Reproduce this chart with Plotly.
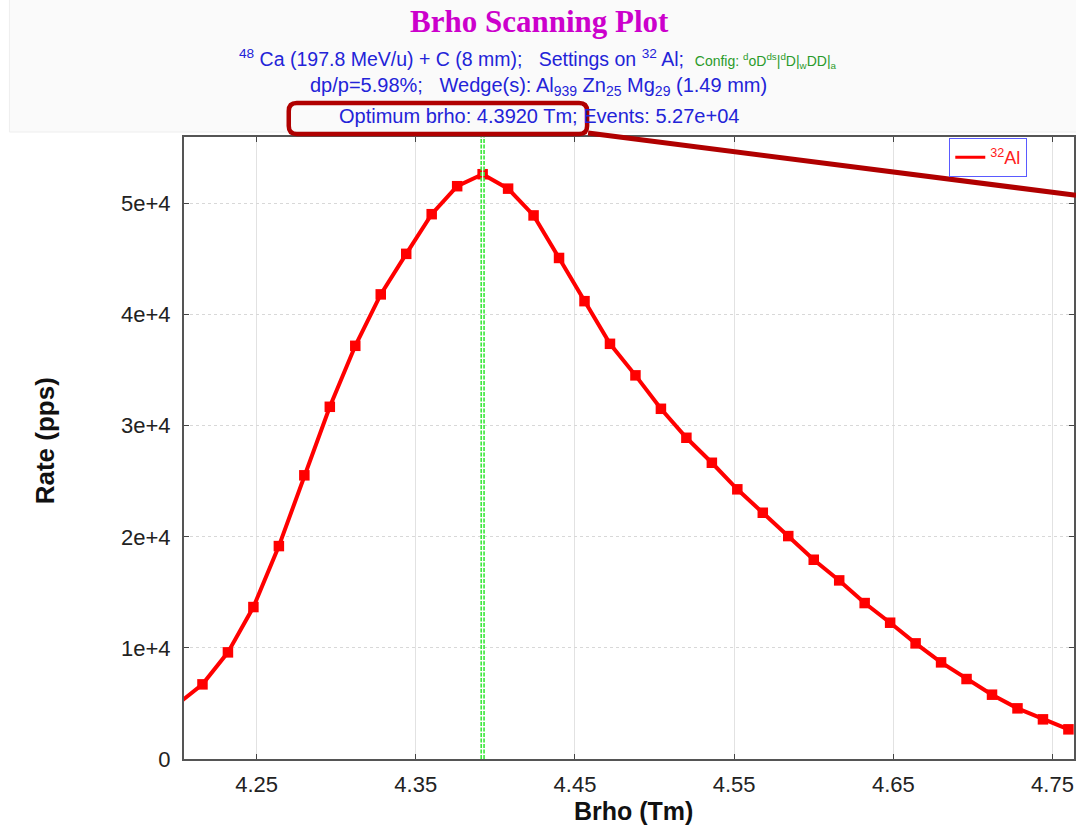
import plotly.graph_objects as go

# ---------------- data ----------------
brho = [4.200, 4.216, 4.232, 4.248, 4.264, 4.280, 4.296, 4.312, 4.328, 4.344,
        4.360, 4.376, 4.392, 4.408, 4.424, 4.440, 4.456, 4.472, 4.488, 4.504,
        4.520, 4.536, 4.552, 4.568, 4.584, 4.600, 4.616, 4.632, 4.648, 4.664,
        4.680, 4.696, 4.712, 4.728, 4.744, 4.760]
rate = [4900, 6720, 9600, 13680, 19170, 25540, 31710, 37200, 41830, 45480,
        49050, 51570, 52650, 51350, 48940, 45110, 41220, 37380, 34540, 31530,
        28920, 26670, 24280, 22170, 20070, 17940, 16080, 14040, 12270, 10410,
        8700, 7200, 5790, 4560, 3570, 2670]
optimum_brho = 4.3920
x_tickvals = [4.25, 4.35, 4.45, 4.55, 4.65, 4.75]
x_ticktext = ["4.25", "4.35", "4.45", "4.55", "4.65", "4.75"]
y_tickvals = [0, 10000, 20000, 30000, 40000, 50000]
y_ticktext = ["0", "1e+4", "2e+4", "3e+4", "4e+4", "5e+4"]
series_name = "<sup>32</sup>Al"

# ---------------- layout geometry (pixels) ----------------
W, H = 1076, 829
ML, MR, MT, MB = 184, 0, 137, 70
PW, PH = W - ML - MR, H - MT - MB


def px(x):
    return (x - ML) / PW


def py(y):
    return (H - MB - y) / PH


SANS = "Liberation Sans, Arial, sans-serif"
SERIF = "Liberation Serif, Times New Roman, serif"
BLUE = "#2323d8"

fig = go.Figure()

fig.add_trace(go.Scatter(
    x=brho, y=rate, mode="lines+markers",
    line=dict(color="#ff0000", width=4),
    marker=dict(symbol="square", size=10.5, color="#ff0000"),
    showlegend=False, cliponaxis=True,
))
# legend entry (line only)
fig.add_trace(go.Scatter(
    x=[None], y=[None], mode="lines", name=series_name,
    line=dict(color="#ff0000", width=3), showlegend=True,
))

axis_common = dict(
    showline=True, linecolor="#555555", linewidth=2, mirror="ticks",
    ticks="inside", ticklen=5, tickcolor="#444444",
    tickfont=dict(family=SANS, size=22, color="#222222"),
    zeroline=False,
)
fig.update_xaxes(
    range=[4.2044, 4.7635], tickvals=x_tickvals, ticktext=x_ticktext,
    showgrid=True, gridcolor="#e2e2e2", gridwidth=1, ticklabelstandoff=5,
    **axis_common,
)
fig.update_yaxes(
    range=[0, 56000], tickvals=y_tickvals, ticktext=y_ticktext,
    showgrid=True, gridcolor="#d8d8d8", gridwidth=1, griddash="dot",
    ticklabelstandoff=7, **axis_common,
)

shapes = []
# header background
shapes.append(dict(type="rect", xref="paper", yref="paper",
                   x0=px(9), x1=px(W + 5), y0=py(132), y1=py(-5),
                   fillcolor="#fafafa", line=dict(color="#eeeeee", width=1),
                   layer="below"))
# optimum brho line
shapes.append(dict(type="line", xref="x", yref="paper",
                   x0=optimum_brho, x1=optimum_brho, y0=0, y1=1,
                   line=dict(color="#3fe83f", width=4.5, dash="4px,1.5px")))
shapes.append(dict(type="line", xref="x", yref="paper",
                   x0=optimum_brho, x1=optimum_brho, y0=0, y1=1,
                   line=dict(color="#ffffff", width=1.2)))

# rounded red highlight box
bx0, bx1, by0, by1, r = 289, 588, 103, 134, 8


def P(x, y):
    return f"{px(x):.5f},{py(y):.5f}"


path = (f"M {P(bx0 + r, by0)} L {P(bx1 - r, by0)} Q {P(bx1, by0)} {P(bx1, by0 + r)} "
        f"L {P(bx1, by1 - r)} Q {P(bx1, by1)} {P(bx1 - r, by1)} "
        f"L {P(bx0 + r, by1)} Q {P(bx0, by1)} {P(bx0, by1 - r)} "
        f"L {P(bx0, by0 + r)} Q {P(bx0, by0)} {P(bx0 + r, by0)} Z")
shapes.append(dict(type="path", xref="paper", yref="paper", path=path,
                   line=dict(color="#b00000", width=4.5)))
shapes.append(dict(type="line", xref="paper", yref="paper",
                   x0=px(589), y0=py(133), x1=px(W + 2), y1=py(195.3),
                   line=dict(color="#b00000", width=5)))

annotations = [
    dict(text="<b>Brho Scanning Plot</b>", x=px(540), y=py(22),
         font=dict(family=SERIF, size=31, color="#cc00cc")),
    dict(text=("<sup>48</sup> Ca (197.8 MeV/u) + C (8 mm);&nbsp;&nbsp; Settings on "
               "<sup>32</sup> Al;&nbsp; <span style='color:#2a9a2a;font-size:14px'>"
               "Config: <sup>d</sup>oD<sup>ds</sup>|<sup>d</sup>D|<sub>w</sub>DD|<sub>a</sub></span>"),
         x=px(539), y=py(58), font=dict(family=SANS, size=19.5, color=BLUE)),
    dict(text=("dp/p=5.98%;&nbsp;&nbsp; Wedge(s): Al<sub>939</sub> Zn<sub>25</sub> "
               "Mg<sub>29</sub> (1.49 mm)"),
         x=px(539), y=py(87), font=dict(family=SANS, size=20, color=BLUE)),
    dict(text="Optimum brho: 4.3920 Tm; Events: 5.27e+04",
         x=px(540), y=py(116), font=dict(family=SANS, size=20, color=BLUE)),
    dict(text="<b>Brho (Tm)</b>", x=px(635), y=py(811),
         font=dict(family=SANS, size=25, color="#111111")),
    dict(text="<b>Rate (pps)</b>", x=px(45), y=py(441), textangle=-90,
         font=dict(family=SANS, size=26, color="#111111")),
]
for a in annotations:
    a.update(xref="paper", yref="paper", showarrow=False,
             xanchor="center", yanchor="middle")

fig.update_layout(
    width=W, height=H, autosize=False,
    margin=dict(l=ML, r=MR, t=MT, b=MB, pad=0),
    paper_bgcolor="white", plot_bgcolor="white",
    shapes=shapes, annotations=annotations,
    showlegend=True,
    legend=dict(x=px(951), y=py(138), xanchor="left", yanchor="top",
                bgcolor="white", bordercolor="#5a5aff", borderwidth=1,
                font=dict(family=SANS, size=18, color="#ff2020"),
                itemwidth=30, tracegroupgap=0),
)

fig.write_html("out.html")
